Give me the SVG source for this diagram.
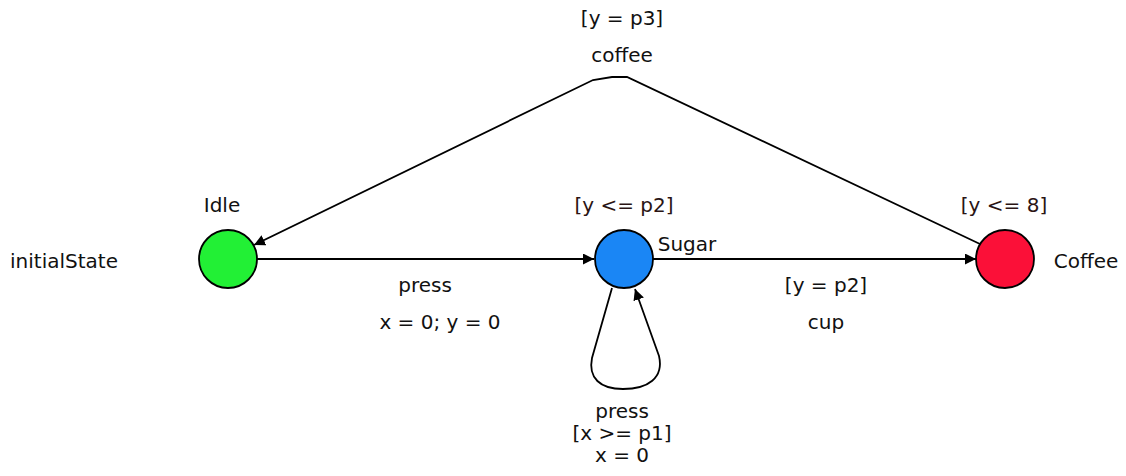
<svg xmlns="http://www.w3.org/2000/svg" width="1126" height="476" viewBox="0 0 1126 476">
<style>
text{font-family:"DejaVu Sans",sans-serif;font-size:20px;fill:#111;text-anchor:middle}
.inv{fill:#2a1414}
.state{stroke:#000;stroke-width:1.8}
.edge{fill:none;stroke:#000;stroke-width:1.8}
</style>
<defs>
<marker id="arr" viewBox="0 0 10 10" refX="10" refY="5" markerWidth="11" markerHeight="11" markerUnits="userSpaceOnUse" orient="auto">
<path d="M0,0 L10,5 L0,10 z" fill="#000"/>
</marker>
</defs>
<g id="connectors">
<path class="edge" d="M257,259 L594,259" marker-end="url(#arr)"/>
<path class="edge" d="M653,259 L976,259" marker-end="url(#arr)"/>
<path class="edge" d="M980,244 L627,77 L612,77 L593,80 L254,245" marker-end="url(#arr)"/>
<path class="edge" d="M612,288 L592,358 C588,378 600,389 623,389 C648,389 664,378 659,356 L635,289" marker-end="url(#arr)"/>
<text x="425" y="292">press</text>
<text x="440" y="329">x = 0; y = 0</text>
<text x="826" y="292">[y = p2]</text>
<text x="826" y="329">cup</text>
<text x="622" y="25">[y = p3]</text>
<text x="622" y="62">coffee</text>
<text x="622" y="418">press</text>
<text x="622" y="440">[x &gt;= p1]</text>
<text x="622" y="462">x = 0</text>
</g>
<g id="idle">
<circle class="state" cx="228" cy="259" r="29" fill="#22f035"/>
<text x="222" y="212">Idle</text>
<text x="64" y="268">initialState</text>
</g>
<g id="sugar">
<circle class="state" cx="624" cy="259" r="29" fill="#1a86f5"/>
<text x="687" y="251">Sugar</text>
<text class="inv" x="624" y="212">[y &lt;= p2]</text>
</g>
<g id="coffee">
<circle class="state" cx="1005" cy="259" r="29" fill="#fb1038"/>
<text x="1086" y="268">Coffee</text>
<text class="inv" x="1004" y="212">[y &lt;= 8]</text>
</g>
</svg>
